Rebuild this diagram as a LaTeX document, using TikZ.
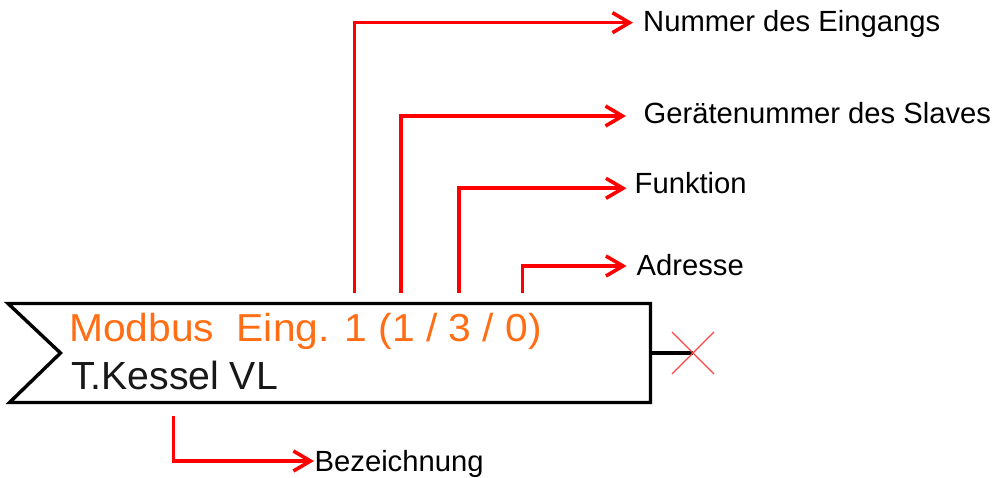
\documentclass[tikz,border=0pt]{standalone}
\usepackage{fontspec}
\usepackage{graphicx}
\setmainfont{Liberation Sans}
\usetikzlibrary{arrows.meta}
\definecolor{callred}{RGB}{255,0,0}
\definecolor{modorange}{RGB}{255,110,20}
\definecolor{crossred}{RGB}{255,70,70}
\definecolor{inktext}{RGB}{24,24,24}
\begin{document}
\begin{tikzpicture}[x=1pt,y=1pt,
  callout/.style={draw=callred, line width=3.6pt,
    -{Straight Barb[length=17pt,width=20pt]}},
  lbl/.style={anchor=base west, inner sep=0pt, font=\fontsize{29.2}{29.2}\selectfont},
  blockline/.style={line width=3.4pt, line join=miter}]
  \fill[white] (0,0) rectangle (995,477);
  \useasboundingbox (0,0) rectangle (995,477);

  % input block with notched left side
  \draw[blockline] (8,173.5) -- (650.5,173.5) -- (650.5,74.5) -- (9.5,74.5) -- (60.5,124) -- cycle;
  \node[anchor=base west, inner sep=0pt, text=modorange, font=\fontsize{39}{39}\selectfont]
    (title) at (69,135.3) {\scalebox{1.045}[1]{Modbus\ \ Eing. 1 (1 / 3 / 0)}};
  \node[anchor=base west, inner sep=0pt, text=inktext, font=\fontsize{39.2}{39.2}\selectfont]
    (name) at (70.8,87.7) {T.Kessel VL};

  % output stub, not connected
  \coordinate (outR) at (650.5,124);
  \coordinate (outX) at (693,124);
  \draw[line width=3.4pt] (outR) -- (outX);
  \draw[crossred, line width=1.3pt] (672,145) -- (714,103) (672,103) -- (714,145);

  % labels
  \node[lbl] (lNum) at (643,445.3) {Nummer des Eingangs};
  \node[lbl] (lDev) at (643.5,353.7) {Gerätenummer des Slaves};
  \node[lbl] (lFun) at (634.5,283.7) {Funktion};
  \node[lbl] (lAdr) at (636.5,201) {Adresse};
  \node[lbl] (lBez) at (314.5,5.3) {Bezeichnung};

  % callout start points
  \coordinate (sNum) at (354.5,184);
  \coordinate (sDev) at (401,184);
  \coordinate (sFun) at (459,184);
  \coordinate (sAdr) at (522.5,184);
  \coordinate (sBez) at (173.3,61);

  \draw[callout] (sNum) |- ([shift={(-10,9)}]lNum.base west);
  \draw[callout] (sDev) |- ([shift={(-17.5,7.3)}]lDev.base west);
  \draw[callout] (sFun) |- ([shift={(-8,5)}]lFun.base west);
  \draw[callout] (sAdr) |- ([shift={(-10,10)}]lAdr.base west);
  \draw[callout] (sBez) |- ([shift={(-0.5,10.7)}]lBez.base west);
\end{tikzpicture}
\end{document}
